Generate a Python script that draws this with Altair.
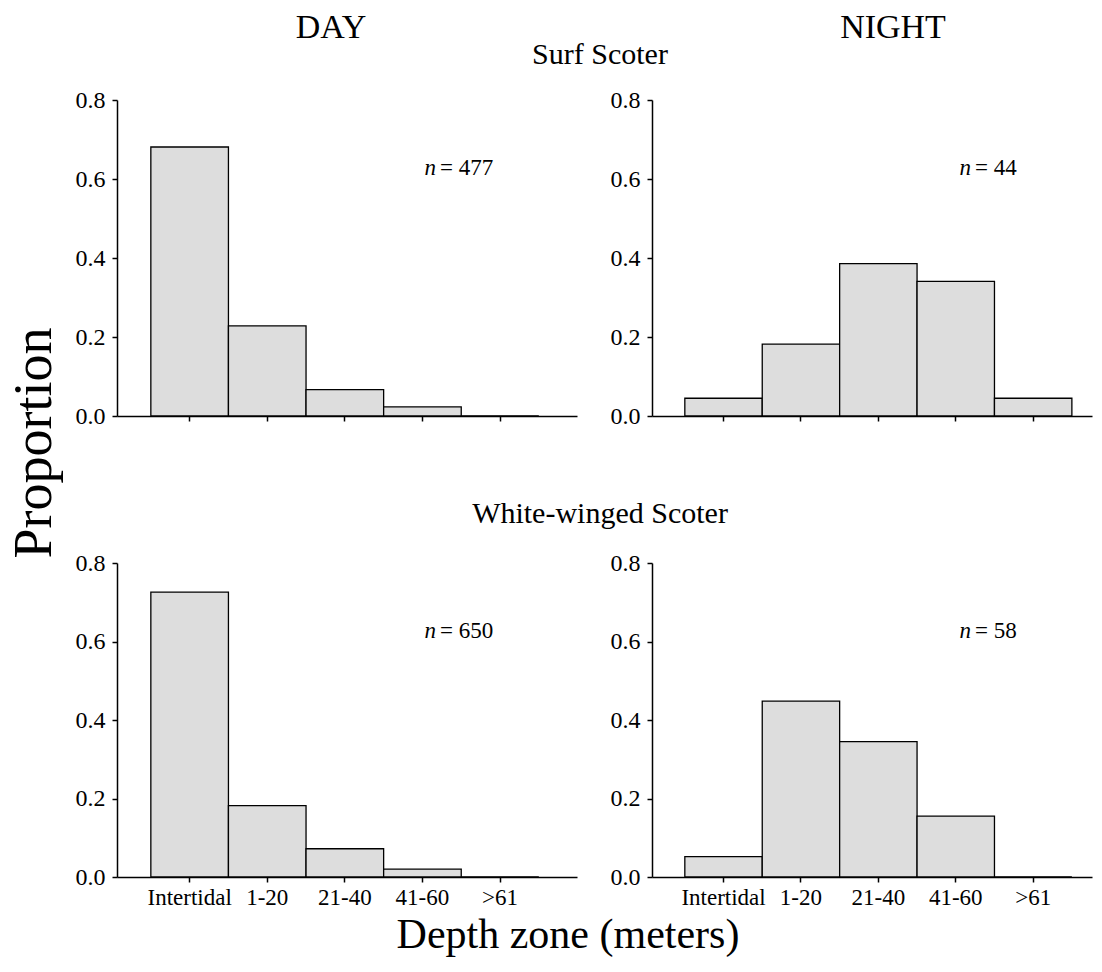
import altair as alt
import pandas as pd

# ---- data ----
zones = ["Intertidal", "1-20", "21-40", "41-60", ">61"]
surf_day = [0.681, 0.228, 0.067, 0.023, 0.0]
surf_night = [0.045, 0.182, 0.386, 0.341, 0.045]
ww_day = [0.726, 0.182, 0.072, 0.020, 0.0]
ww_night = [0.052, 0.448, 0.345, 0.155, 0.0]
n_values = [477, 44, 650, 58]
periods = ["DAY", "NIGHT"]
species = ["Surf Scoter", "White-winged Scoter"]
y_ticks = [0.0, 0.2, 0.4, 0.6, 0.8]
y_title = "Proportion"
x_title = "Depth zone (meters)"

FONT = "Liberation Serif"
BAR_FILL = "#dddddd"


def text_layer(label, x, y, size, **kw):
    df = pd.DataFrame({"t": [label]})
    return alt.Chart(df).mark_text(font=FONT, fontSize=size, color="black", **kw).encode(
        x=alt.value(x), y=alt.value(y), text="t:N"
    )


def panel(values, n, width, height, pad_outer, align, show_labels, extras):
    df = pd.DataFrame({"zone": zones, "prop": values})
    x = alt.X(
        "zone:N",
        sort=zones,
        scale=alt.Scale(type="band", paddingInner=0, paddingOuter=pad_outer, align=align),
        axis=alt.Axis(
            title=None, labels=show_labels, bandPosition=0.5, ticks=True, tickSize=5,
            tickColor="black", tickWidth=1.5, domainColor="black", domainWidth=1.5,
            labelAngle=0, labelFont=FONT, labelFontSize=23, labelColor="black",
            labelPadding=4, grid=False,
        ),
    )
    y = alt.Y(
        "prop:Q",
        scale=alt.Scale(domain=[0, 0.8], nice=False),
        axis=alt.Axis(
            title=None, values=y_ticks, format=".1f", tickSize=5, tickColor="black",
            tickWidth=1.5, domainColor="black", domainWidth=1.5, labelFont=FONT,
            labelFontSize=24, labelColor="black", labelPadding=7, grid=False,
        ),
    )
    bars = alt.Chart(df).mark_bar(fill=BAR_FILL, stroke="black", strokeWidth=1.3).encode(x=x, y=y)
    n_it = text_layer("n", 319, 75, 23, fontStyle="italic", align="right", baseline="alphabetic")
    n_num = text_layer(f"= {n}", 323, 75, 23, align="left", baseline="alphabetic")
    layers = [bars, n_it, n_num] + extras
    return alt.layer(*layers).properties(width=width, height=height)


tl = panel(surf_day, n_values[0], 460, 316, 0.464, 0.47, False, [
    text_layer(periods[0], 214, -62, 34, align="center", baseline="alphabetic"),
    text_layer(species[0], 483, -36, 30, align="center", baseline="alphabetic"),
    text_layer(y_title, -82, 343, 54, align="center", baseline="middle", angle=270),
])
tr = panel(surf_night, n_values[1], 440, 316, 0.342, 0.62, False, [
    text_layer(periods[1], 241, -62, 34, align="center", baseline="alphabetic"),
])
bl = panel(ww_day, n_values[2], 460, 314, 0.464, 0.47, True, [
    text_layer(species[1], 483, -40, 30, align="center", baseline="alphabetic"),
    text_layer(x_title, 451, 385, 42, align="center", baseline="alphabetic"),
])
br = panel(ww_night, n_values[3], 440, 314, 0.342, 0.62, True, [])

chart = alt.concat(
    tl, tr, bl, br, columns=2, spacing={"row": 147, "column": 75}, bounds="flush"
).properties(
    padding={"left": 8, "top": 11, "right": 5, "bottom": 5},
    background="white",
).configure_view(strokeWidth=0)

chart.save("out.html", embed_options={"renderer": "svg", "actions": False})
